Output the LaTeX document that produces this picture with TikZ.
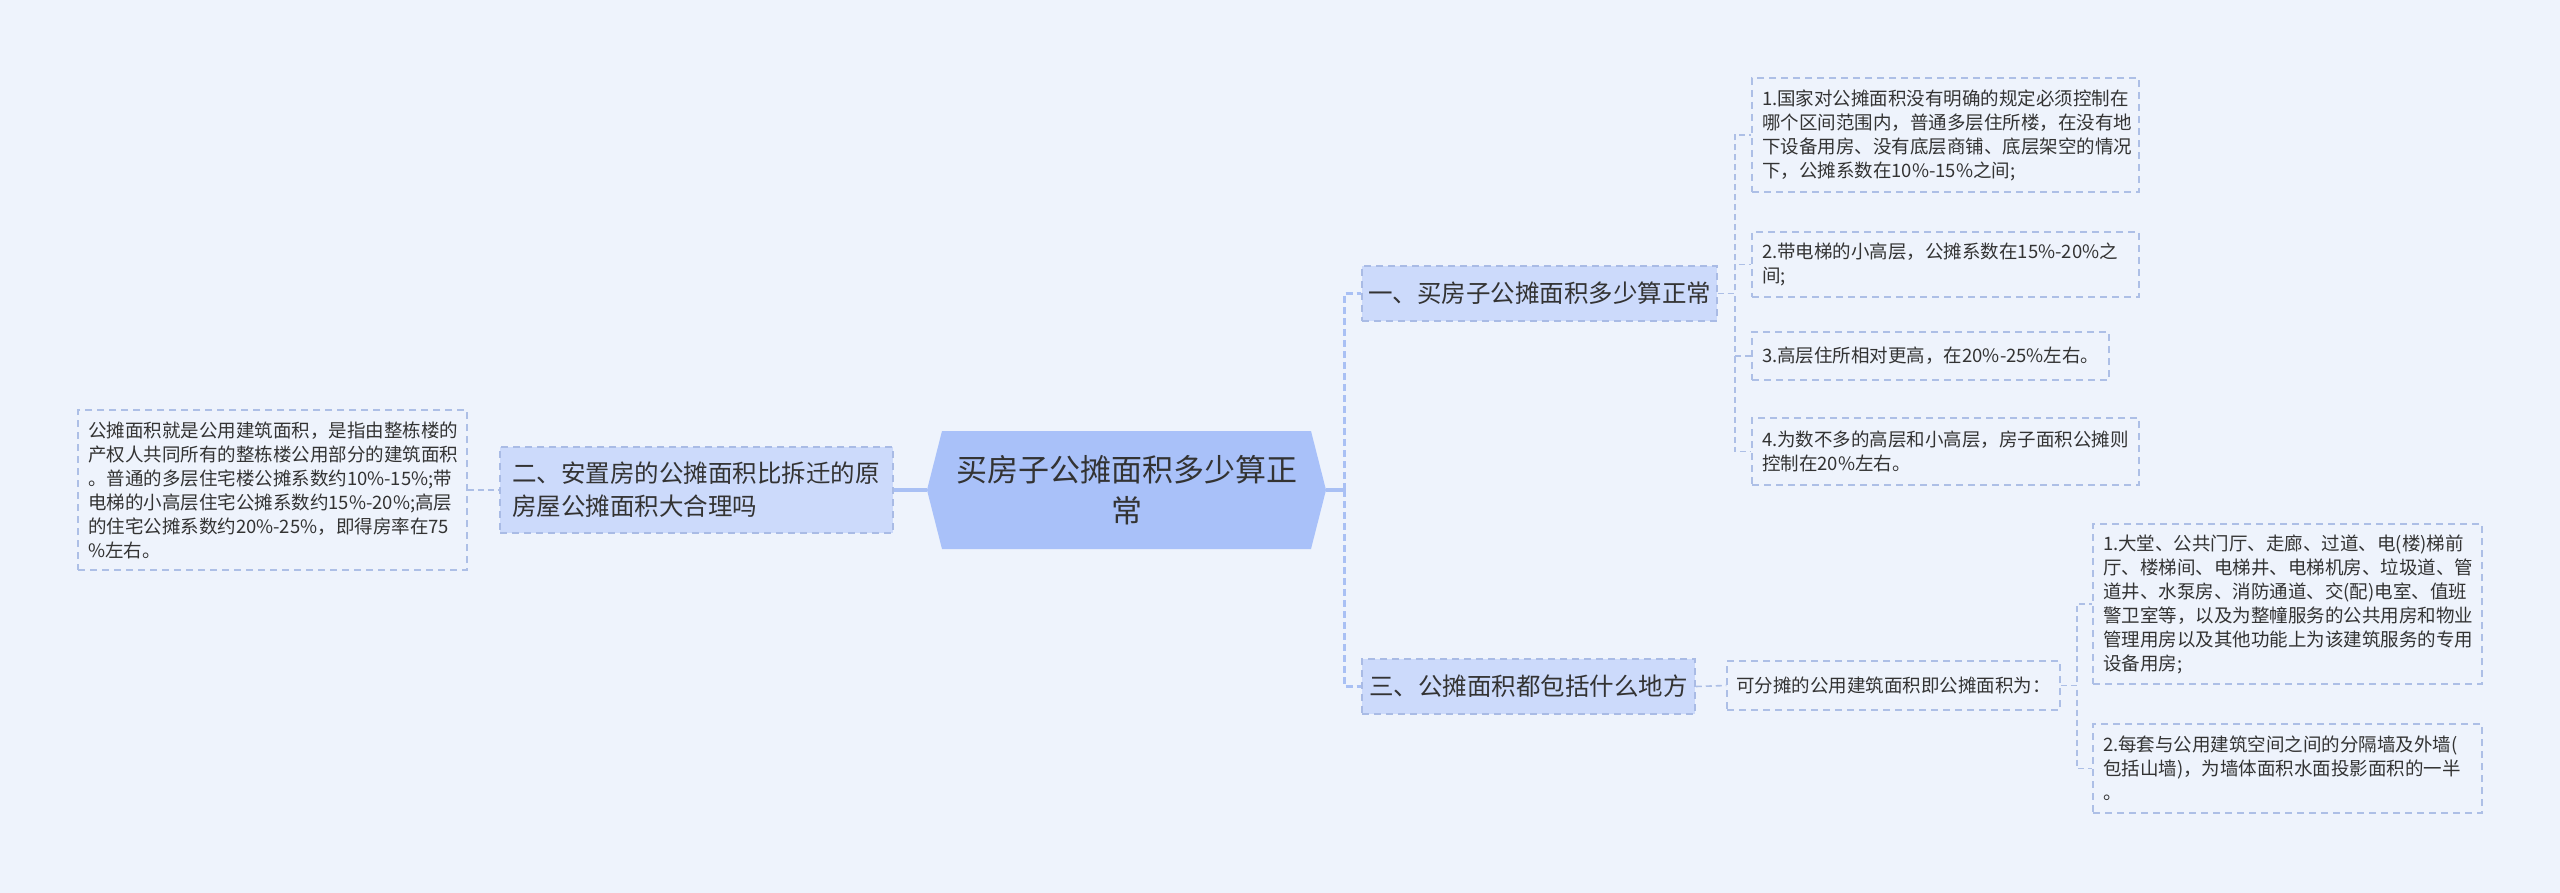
\documentclass[tikz,border=0pt]{standalone}
\usepackage{fontspec}
\setmainfont{Noto Sans CJK SC}
\definecolor{bgc}{HTML}{EEF3FC}
\definecolor{rootc}{HTML}{A9C1F9}
\definecolor{lvc}{HTML}{CCDAFB}
\definecolor{bordc}{HTML}{A9BBE5}
\definecolor{linec}{HTML}{ADBFE6}
\definecolor{thickc}{HTML}{A9C0F4}
\definecolor{txtc}{HTML}{333333}
\tikzset{
  leafbox/.style={draw=linec, line width=1.5pt, dash pattern=on 7pt off 5pt, inner sep=0pt,
    text=txtc, align=left, font=\fontsize{18.5}{24}\selectfont},
  lvbox/.style={draw=bordc, fill=lvc, line width=1.5pt, dash pattern=on 7pt off 5pt, inner sep=0pt,
    text=txtc, font=\fontsize{24.5}{33}\selectfont},
  thinconn/.style={draw=linec, line width=1.6pt, dash pattern=on 6pt off 4pt},
  thickconn/.style={draw=thickc, line width=2.8pt, dash pattern=on 7pt off 4pt},
  solidconn/.style={draw=thickc, line width=3.5pt}
}
\begin{document}
\begin{tikzpicture}[x=1pt,y=-1pt]
\fill[bgc] (0,0) rectangle (2560,893);
\useasboundingbox (0,0) rectangle (2560,893);

% root hexagon
\fill[rootc] (942,431) -- (1311,431) -- (1326,490) -- (1311,549) -- (942,549) -- (927,490) -- cycle;
\node[minimum width=399pt, minimum height=118pt, inner sep=0pt, align=center, text=txtc,
  font=\fontsize{31}{41}\selectfont] (root) at (1126.5,490) {买房子公摊面积多少算正\\常};

% level 1
\node[lvbox, minimum width=393pt, minimum height=86pt, text width=369pt, align=left] (n2) at (696.5,490)
  {二、安置房的公摊面积比拆迁的原\\房屋公摊面积大合理吗};
\node[lvbox, minimum width=355pt, minimum height=55pt, align=center] (n1) at (1539.5,293.5)
  {一、买房子公摊面积多少算正常};
\node[lvbox, minimum width=333pt, minimum height=55pt, align=center] (n3) at (1528.5,686.5)
  {三、公摊面积都包括什么地方};

% left leaf
\node[leafbox, minimum width=389pt, minimum height=160pt, text width=369pt] (L) at (272.5,490)
  {公摊面积就是公用建筑面积，是指由整栋楼的\\产权人共同所有的整栋楼公用部分的建筑面积\\。普通的多层住宅楼公摊系数约10\%-15\%;带\\电梯的小高层住宅公摊系数约15\%-20\%;高层\\的住宅公摊系数约20\%-25\%，即得房率在75\\\%左右。};

% leaves of n1
\node[leafbox, minimum width=387pt, minimum height=114pt, text width=367pt] (a1) at (1945.5,135)
  {1.国家对公摊面积没有明确的规定必须控制在\\哪个区间范围内，普通多层住所楼，在没有地\\下设备用房、没有底层商铺、底层架空的情况\\下，公摊系数在10\%-15\%之间;};
\node[leafbox, minimum width=387pt, minimum height=65pt, text width=367pt] (a2) at (1945.5,264.5)
  {2.带电梯的小高层，公摊系数在15\%-20\%之\\间;};
\node[leafbox, minimum width=357pt, minimum height=48pt, text width=337pt] (a3) at (1930.5,356)
  {\mbox{3.高层住所相对更高，在20\%-25\%左右。}};
\node[leafbox, minimum width=387pt, minimum height=67pt, text width=367pt] (a4) at (1945.5,451.5)
  {4.为数不多的高层和小高层，房子面积公摊则\\控制在20\%左右。};

% n3 children
\node[leafbox, minimum width=333pt, minimum height=49pt, align=center] (n3a) at (1893.5,685.5)
  {可分摊的公用建筑面积即公摊面积为：};
\node[leafbox, minimum width=389pt, minimum height=160pt, text width=369pt] (b1) at (2287.5,604)
  {1.大堂、公共门厅、走廊、过道、电(楼)梯前\\厅、楼梯间、电梯井、电梯机房、垃圾道、管\\道井、水泵房、消防通道、交(配)电室、值班\\警卫室等，以及为整幢服务的公共用房和物业\\管理用房以及其他功能上为该建筑服务的专用\\设备用房;};
\node[leafbox, minimum width=389pt, minimum height=89pt, text width=369pt] (b2) at (2287.5,768.5)
  {2.每套与公用建筑空间之间的分隔墙及外墙(\\包括山墙)，为墙体面积水面投影面积的一半\\。};

% connectors
\draw[solidconn] (n2.east) -- (root.west);
\draw[thinconn] (L.east) -- (n2.west);
\draw[solidconn] (root.east) -- ++(18,0);
\draw[thickconn] ([xshift=18pt]root.east) |- (n1.west);
\draw[thickconn] ([xshift=18pt]root.east) |- (n3.west);
\foreach \t in {a1,a2,a3,a4}
  \draw[thinconn] (n1.east) -- ++(17,0) |- (\t.west);
\draw[thinconn] (n3.east) -- (n3a.west);
\foreach \t in {b1,b2}
  \draw[thinconn] (n3a.east) -- ++(16,0) |- (\t.west);
\end{tikzpicture}
\end{document}
